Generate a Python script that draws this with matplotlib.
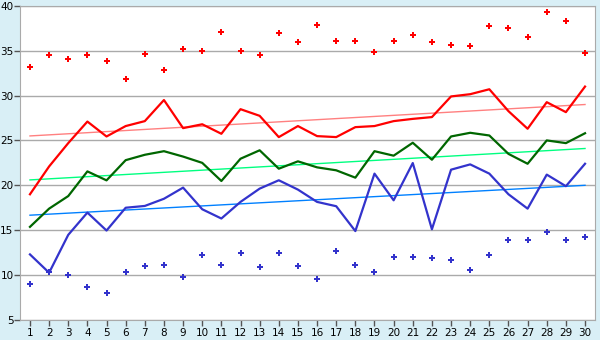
import numpy as np
import matplotlib
matplotlib.use("Agg")
import matplotlib.pyplot as plt

days = list(range(1, 31))

# daily extremes (markers)
max_vals = [33.2, 34.5, 34.1, 34.5, 33.85, 31.85, 34.6, 32.85, 35.2, 35.0,
            37.07, 35.0, 34.5, 36.96, 35.96, 37.85, 36.07, 36.07, 34.85, 36.07,
            36.74, 35.96, 35.63, 35.52, 37.74, 37.52, 36.52, 39.3, 38.3, 34.74]
min_vals = [8.96, 10.3, 9.96, 8.63, 7.96, 10.3, 10.96, 11.07, 9.74, 12.19,
            11.07, 12.44, 10.85, 12.44, 10.96, 9.52, 12.67, 11.07, 10.3, 11.96,
            11.96, 11.85, 11.63, 10.52, 12.19, 13.96, 13.96, 14.85, 13.96, 14.19]

# lines
high_vals = [19.0, 22.1, 24.7, 27.1, 25.44, 26.6, 27.15, 29.5, 26.37, 26.8,
             25.74, 28.48, 27.74, 25.37, 26.6, 25.48, 25.37, 26.48, 26.6, 27.15,
             27.4, 27.6, 29.9, 30.15, 30.7, 28.26, 26.3, 29.26, 28.15, 31.0]
mean_vals = [15.37, 17.4, 18.8, 21.55, 20.55, 22.8, 23.4, 23.8, 23.2, 22.5,
             20.48, 22.96, 23.9, 21.85, 22.67, 22.0, 21.67, 20.85, 23.8, 23.3,
             24.74, 22.85, 25.44, 25.85, 25.55, 23.5, 22.4, 25.0, 24.7, 25.8]
low_vals = [12.3, 10.26, 14.48, 16.96, 14.96, 17.5, 17.7, 18.5, 19.74, 17.33,
            16.3, 18.15, 19.63, 20.56, 19.52, 18.15, 17.67, 14.9, 21.3, 18.33,
            22.48, 15.1, 21.74, 22.33, 21.3, 19.0, 17.4, 21.19, 19.9, 22.4]

# trend lines, start and end
high_trend = [25.5, 29.0]
mean_trend = [20.6, 24.1]
low_trend = [16.67, 20.0]

fig = plt.figure(figsize=(6, 3.4), dpi=100)
fig.patch.set_facecolor('#d9eff6')
ax = fig.add_axes([0.034, 0.059, 0.957, 0.924])
ax.set_facecolor('white')

ends = [days[0], days[-1]]
ax.plot(ends, high_trend, color='#ff8080', lw=1, zorder=2)
ax.plot(ends, mean_trend, color='#00ff80', lw=1, zorder=2)
ax.plot(ends, low_trend, color='#0080ff', lw=1, zorder=2)

ax.plot(days, high_vals, color='#ff0000', lw=1.6, zorder=3)
ax.plot(days, mean_vals, color='#006600', lw=1.6, zorder=3)
ax.plot(days, low_vals, color='#3333cc', lw=1.6, zorder=3)

ax.plot(days, max_vals, ls='none', marker='P', ms=5, color='#ff0000', mew=0, zorder=4)
ax.plot(days, min_vals, ls='none', marker='P', ms=5, color='#3333cc', mew=0, zorder=4)

ax.set_xlim(0.5, 30.5)
ax.set_ylim(5, 40)
ax.set_xticks(days)
ax.set_yticks(range(5, 41, 5))
ax.yaxis.grid(True, color='#aaaaaa', lw=1)
ax.set_axisbelow(True)
for s in ax.spines.values():
    s.set_color('#aaaaaa')
ax.tick_params(axis='both', labelcolor='black', color='#555555', labelsize=7.5,
               length=4, width=1, direction='out')
ax.tick_params(axis='y', pad=1)
ax.tick_params(axis='x', pad=2)

fig.savefig('out.png', dpi=100, facecolor=fig.get_facecolor())
